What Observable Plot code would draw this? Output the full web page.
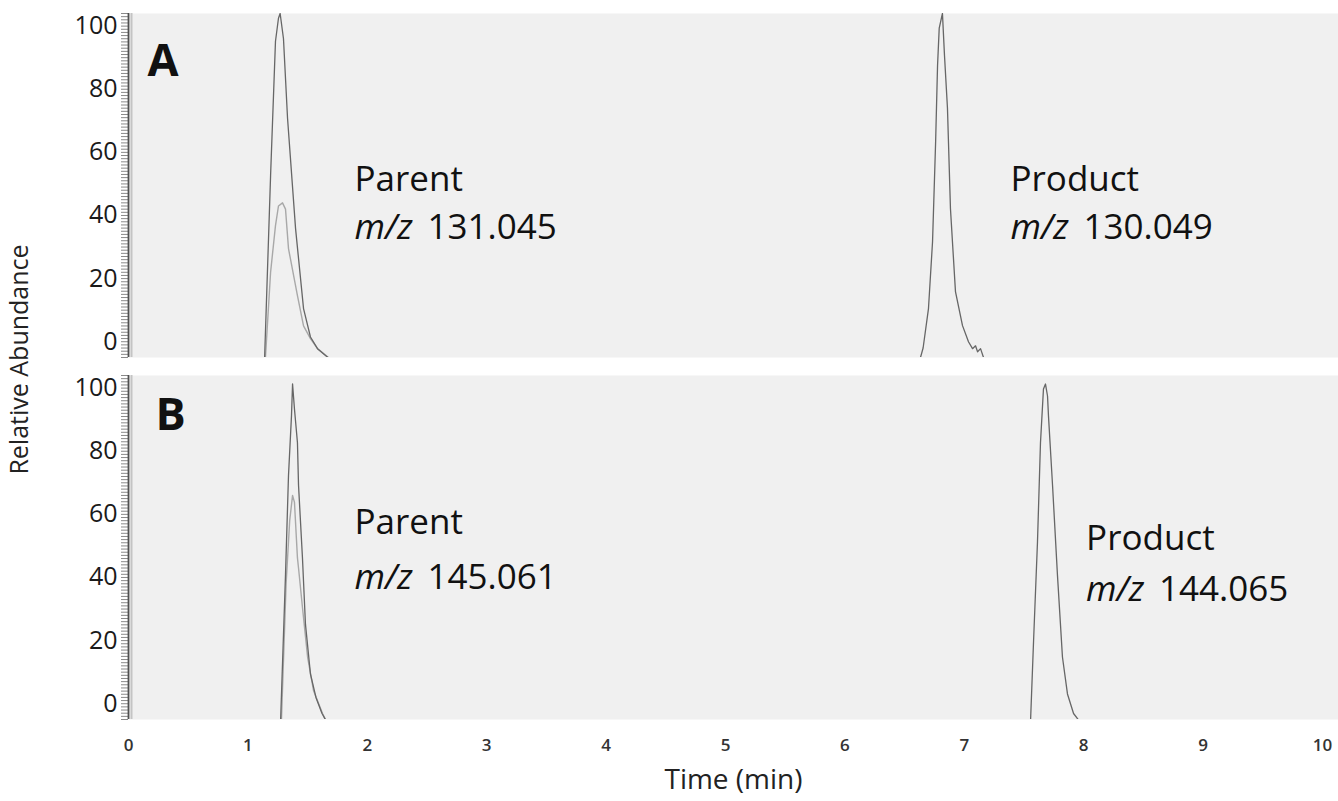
<!DOCTYPE html>
<html>
<head>
<meta charset="utf-8">
<script src="https://cdn.jsdelivr.net/npm/d3@7"></script>
<script src="https://cdn.jsdelivr.net/npm/@observablehq/plot@0.6"></script>
<style>
  html, body { margin: 0; padding: 0; background: #ffffff; }
  #chart { width: 1338px; height: 801px; }
</style>
</head>
<body>
<div id="chart"></div>
<script>
// ---- Data (time in min, relative abundance %) ----
const panels = ["A", "B"];
const xTicks = [0, 1, 2, 3, 4, 5, 6, 7, 8, 9, 10];
const yTicks = [0, 20, 40, 60, 80, 100];

// Panel A – parent ion (dark trace)
const parentA_t = [1.140, 1.190, 1.231, 1.256, 1.270, 1.298, 1.332, 1.399, 1.466, 1.524, 1.583, 1.670];
const parentA_v = [-5, 52.7, 95.2, 102.5, 104, 96, 70.8, 35.9, 10.5, 1.5, -2.2, -5];
// Panel A – second parent trace (light)
const parentA2_t = [1.147, 1.190, 1.231, 1.256, 1.290, 1.315, 1.340, 1.415, 1.466, 1.524, 1.583, 1.675];
const parentA2_v = [-5, 22, 36.8, 43, 44, 42, 29.5, 14.6, 5, 1, -2.2, -5];
// Panel A – product ion
const productA_t = [6.633, 6.655, 6.700, 6.734, 6.760, 6.776, 6.790, 6.817, 6.834, 6.859, 6.884, 6.926, 6.985, 7.035, 7.069, 7.094, 7.111, 7.136, 7.161];
const productA_v = [-5, -2, 10.5, 31.7, 63.5, 87.6, 99.4, 104, 90.8, 74, 42.2, 15.9, 5.1, 0, -2.2, -1.3, -3.2, -2.2, -5];

// Panel B – parent ion (dark trace)
const parentB_t = [1.273, 1.315, 1.340, 1.365, 1.374, 1.390, 1.415, 1.424, 1.457, 1.482, 1.524, 1.570, 1.620, 1.667];
const parentB_v = [-6.3, 40.9, 72.3, 91.2, 101.3, 93.4, 82.7, 69.2, 46.2, 25.2, 9.4, 2, -3, -6.3];
// Panel B – second parent trace (light)
const parentB2_t = [1.280, 1.320, 1.350, 1.374, 1.390, 1.415, 1.424, 1.457, 1.500, 1.550, 1.625, 1.667];
const parentB2_v = [-6.3, 38, 58, 66, 63.8, 46.2, 43, 30.5, 14.8, 4.1, -3.1, -6.3];
// Panel B – product ion
const productB_t = [7.554, 7.580, 7.613, 7.638, 7.663, 7.680, 7.697, 7.705, 7.739, 7.780, 7.822, 7.864, 7.915, 7.980];
const productB_v = [-6.3, 19.8, 51.3, 82.7, 99.7, 101.3, 97.5, 91.2, 69.2, 40.9, 14.8, 3.1, -3.1, -6.3];

// Annotations
const panelLetters = ["A", "B"];
const letterX = [0.159, 0.226];
const letterY = [88.9, 91.2];
const ionNames = ["Parent", "Product", "Parent", "Product"];
const ionPanels = ["A", "A", "B", "B"];
const ionMz = ["131.045", "130.049", "145.061", "144.065"];
const ionX = [1.893, 7.387, 1.893, 8.02];
const ionNameY = [51.4, 51.4, 57.4, 52.3];
const ionMzY = [36.2, 36.2, 40.0, 36.2];

// ---- Build tables ----
function traceRows(panel, name, ts, vs) {
  return ts.map((t, i) => ({panel, trace: name, t, v: vs[i]}));
}
const darkRows = [
  ...traceRows("A", "parentA", parentA_t, parentA_v),
  ...traceRows("A", "productA", productA_t, productA_v),
  ...traceRows("B", "parentB", parentB_t, parentB_v),
  ...traceRows("B", "productB", productB_t, productB_v)
];
const lightRows = [
  ...traceRows("A", "parentA2", parentA2_t, parentA2_v),
  ...traceRows("B", "parentB2", parentB2_t, parentB2_v)
];
const letters = panelLetters.map((p, i) => ({panel: p, x: letterX[i], y: letterY[i]}));
const ions = ionNames.map((n, i) => ({panel: ionPanels[i], name: n, mz: ionMz[i], x: ionX[i], yName: ionNameY[i], yMz: ionMzY[i]}));

const font = "Open Sans";

const chart = Plot.plot({
  width: 1338,
  height: 801,
  marginLeft: 128,
  marginRight: 0,
  marginTop: 12,
  marginBottom: 82,
  style: {fontFamily: font, background: "#ffffff", color: "#222"},
  x: {domain: [0, 10.134]},
  y: {domain: [-5.0, 104.0]},
  fy: {domain: panels, paddingInner: 0.05, paddingOuter: 0, axis: null},
  marks: [
    Plot.frame({fill: "#f0f0f0", stroke: null}),
    // minor ruler ticks on the y axis
    Plot.axisY({ticks: d3.range(-5, 105, 1), tickSize: 7, tickFormat: () => "", stroke: "#8a8a8a", label: null}),
    // labelled y ticks
    Plot.axisY({ticks: yTicks, tickSize: 0, tickPadding: 11, fontSize: 25, fill: "#1a1a1a", label: null}),
    Plot.ruleX([0], {stroke: "#505050", strokeWidth: 1.8}),
    Plot.ruleX([0], {stroke: "#c4c4c4", strokeWidth: 2, dx: 3}),
    // x axis (bottom panel only)
    Plot.axisX({ticks: xTicks, tickSize: 0, tickPadding: 19, fontSize: 17, fontWeight: 600, fill: "#333", label: null}),
    // traces
    Plot.line(lightRows, {x: "t", y: "v", z: "trace", fy: "panel", stroke: "#a8a8a8", strokeWidth: 1.4, clip: true}),
    Plot.line(darkRows, {x: "t", y: "v", z: "trace", fy: "panel", stroke: "#666666", strokeWidth: 1.3, clip: true}),
    // panel letters
    Plot.text(letters, {x: "x", y: "y", fy: "panel", text: "panel", textAnchor: "start", fontSize: 45, fontWeight: "bold", fill: "#111"}),
    // ion annotations
    Plot.text(ions, {x: "x", y: "yName", fy: "panel", text: "name", textAnchor: "start", fontSize: 35, fill: "#111"}),
    Plot.text(ions, {x: "x", y: "yMz", fy: "panel", text: () => "m/z", textAnchor: "start", fontSize: 35, fontStyle: "italic", fill: "#111"}),
    Plot.text(ions, {x: "x", y: "yMz", fy: "panel", text: "mz", textAnchor: "start", dx: 73, fontSize: 35, fill: "#111"}),
    // axis titles
    Plot.text(["Relative Abundance"], {fy: ["A"], text: d => d, frameAnchor: "bottom-left", dx: -109, dy: 2, rotate: -90, textAnchor: "middle", lineAnchor: "middle", fontSize: 25, fill: "#222"}),
    Plot.text(["Time (min)"], {fy: ["B"], text: d => d, frameAnchor: "bottom", dy: 61, textAnchor: "middle", lineAnchor: "middle", fontSize: 28, fill: "#222"})
  ]
});
document.getElementById("chart").appendChild(chart);
</script>
</body>
</html>
